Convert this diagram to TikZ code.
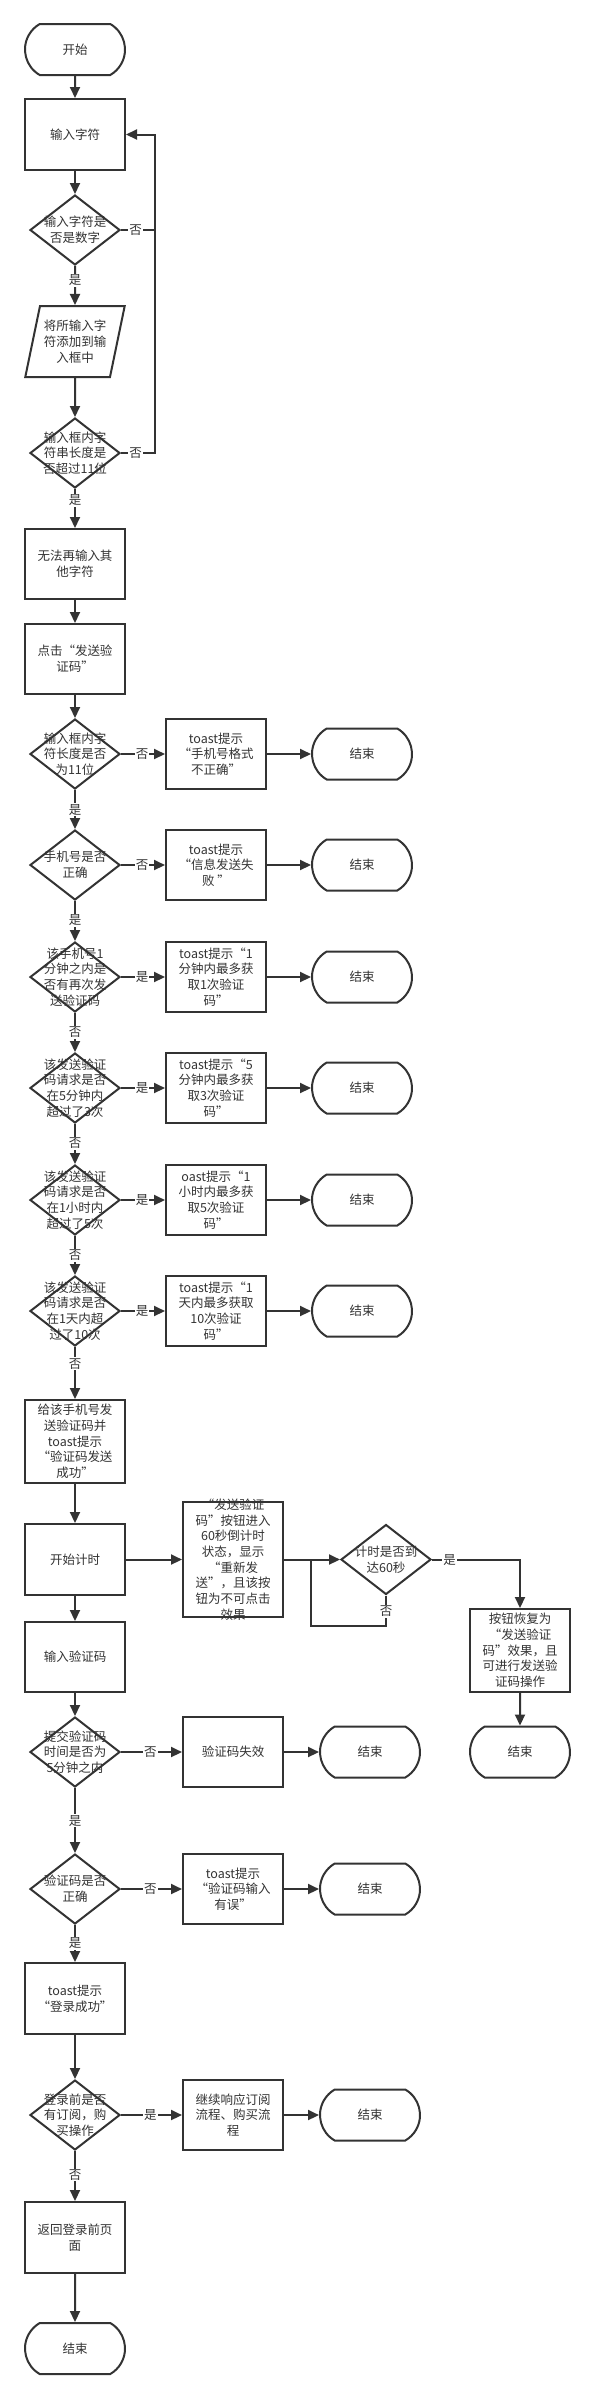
\documentclass[tikz,border=0pt]{standalone}
\usepackage{fontspec}
\setmainfont{Noto Sans CJK SC}
\usetikzlibrary{shapes.geometric,shapes.misc,arrows.meta}
\definecolor{ink}{HTML}{333333}
\begin{document}
\begin{tikzpicture}[x=1pt,y=-1pt,
  every node/.style={font=\fontsize{12.5}{15.7}\selectfont, text=ink, align=center},
  base/.style={draw=ink, line width=2pt, inner sep=0pt},
  box/.style={base, rectangle, minimum width=100pt, minimum height=70pt},
  term/.style={base, rounded rectangle, rounded rectangle arc length=120, minimum width=100pt, minimum height=51pt},
  dia/.style={base, diamond, minimum width=90pt, minimum height=70pt},
  para/.style={base, trapezium, trapezium left angle=73, trapezium right angle=107, trapezium stretches=true, minimum width=100pt, minimum height=71pt},
  line/.style={draw=ink, line width=2pt},
  arr/.style={line, -{Triangle[length=11pt,width=10pt]}},
  lbl/.style={fill=white, inner sep=1pt},
]
\useasboundingbox[fill=white] (0,0) rectangle (595,2399);

% main column
\node[term] (start) at (75,49.5) {开始};
\node[box, minimum height=71pt] (in1) at (75,134.5) {输入字符};
\node[dia, label={center:输入字符是\\否是数字}] (d1) at (75,230) {};
\node[para] (p1) at (75,341.5) {将所输入字\\符添加到输\\入框中};
\node[dia, label={center:输入框内字\\符串长度是\\否超过11位}] (d2) at (75,453) {};
\node[box] (r3) at (75,564) {无法再输入其\\他字符};
\node[box] (r4) at (75,659) {点击“发送验\\证码”};

\node[dia, label={center:输入框内字\\符长度是否\\为11位}] (d3) at (75,754) {};
\node[box] (t1) at (216,754) {toast提示\\“手机号格式\\不正确”};
\node[term] (e1) at (362,754) {结束};

\node[dia, label={center:手机号是否\\正确}] (d4) at (75,865) {};
\node[box] (t2) at (216,865) {toast提示\\“信息发送失\\败 ”};
\node[term] (e2) at (362,865) {结束};

\node[dia, label={center:该手机号1\\分钟之内是\\否有再次发\\送验证码}] (d5) at (75,977) {};
\node[box] (t3) at (216,977) {toast提示“1\\分钟内最多获\\取1次验证\\码”};
\node[term] (e3) at (362,977) {结束};

\node[dia, label={center:该发送验证\\码请求是否\\在5分钟内\\超过了3次}] (d6) at (75,1088) {};
\node[box] (t4) at (216,1088) {toast提示“5\\分钟内最多获\\取3次验证\\码”};
\node[term] (e4) at (362,1088) {结束};

\node[dia, label={center:该发送验证\\码请求是否\\在1小时内\\超过了5次}] (d7) at (75,1200) {};
\node[box] (t5) at (216,1200) {oast提示“1\\小时内最多获\\取5次验证\\码”};
\node[term] (e5) at (362,1200) {结束};

\node[dia, label={center:该发送验证\\码请求是否\\在1天内超\\过了10次}] (d8) at (75,1311) {};
\node[box] (t6) at (216,1311) {toast提示“1\\天内最多获取\\10次验证\\码”};
\node[term] (e6) at (362,1311) {结束};

\node[box, minimum height=83pt] (r5) at (75,1441.5) {给该手机号发\\送验证码并\\toast提示\\“验证码发送\\成功”};
\node[box, minimum height=71pt] (r6) at (75,1559.5) {开始计时};
\node[box, minimum height=115pt, label={center:“发送验证\\码”按钮进入\\60秒倒计时\\状态，显示\\“重新发\\送”，且该按\\钮为不可点击\\效果}] (cd) at (233,1559.5) {};
\node[dia, label={center:计时是否到\\达60秒}] (d60) at (386,1559.5) {};
\node[box, minimum height=83pt] (btn) at (520,1650.5) {按钮恢复为\\“发送验证\\码”效果，且\\可进行发送验\\证码操作};
\node[term] (eR) at (520,1752) {结束};

\node[box] (r7) at (75,1657) {输入验证码};
\node[dia, label={center:提交验证码\\时间是否为\\5分钟之内}] (d9) at (75,1752) {};
\node[box] (t7) at (233,1752) {验证码失效};
\node[term] (e7) at (370,1752) {结束};

\node[dia, label={center:验证码是否\\正确}] (d10) at (75,1889) {};
\node[box] (t8) at (233,1889) {toast提示\\“验证码输入\\有误”};
\node[term] (e8) at (370,1889) {结束};

\node[box, minimum height=71pt] (r8) at (75,1998.5) {toast提示\\“登录成功”};
\node[dia, label={center:登录前是否\\有订阅，购\\买操作}] (d11) at (75,2115) {};
\node[box] (t9) at (233,2115) {继续响应订阅\\流程、购买流\\程};
\node[term] (e9) at (370,2115) {结束};

\node[box, minimum height=71pt] (r9) at (75,2237.5) {返回登录前页\\面};
\node[term] (eF) at (75,2348.5) {结束};

% connectors
\draw[arr] (start) -- (in1);
\draw[arr] (in1) -- (d1);
\draw[arr] (d1) -- node[lbl,pos=0.37]{是} (p1);
\draw[arr] (p1) -- (d2);
\draw[arr] (d2) -- node[lbl,pos=0.29]{是} (r3);
\coordinate (j1) at (155,230);
\draw[arr] (d1.east) -- node[lbl,pos=0.43]{否} (j1) |- (in1.east);
\draw[line] (d2.east) -- node[lbl,pos=0.43]{否} (d2.east -| j1) -- (j1);
\draw[arr] (r3) -- (r4);
\draw[arr] (r4) -- (d3);

\draw[arr] (d3) -- node[lbl,pos=0.48]{否} (t1);
\draw[arr] (t1) -- (e1);
\draw[arr] (d3) -- node[lbl,pos=0.5]{是} (d4);
\draw[arr] (d4) -- node[lbl,pos=0.48]{否} (t2);
\draw[arr] (t2) -- (e2);
\draw[arr] (d4) -- node[lbl,pos=0.48]{是} (d5);
\draw[arr] (d5) -- node[lbl,pos=0.48]{是} (t3);
\draw[arr] (t3) -- (e3);
\draw[arr] (d5) -- node[lbl,pos=0.49]{否} (d6);
\draw[arr] (d6) -- node[lbl,pos=0.48]{是} (t4);
\draw[arr] (t4) -- (e4);
\draw[arr] (d6) -- node[lbl,pos=0.48]{否} (d7);
\draw[arr] (d7) -- node[lbl,pos=0.48]{是} (t5);
\draw[arr] (t5) -- (e5);
\draw[arr] (d7) -- node[lbl,pos=0.49]{否} (d8);
\draw[arr] (d8) -- node[lbl,pos=0.48]{是} (t6);
\draw[arr] (t6) -- (e6);
\draw[arr] (d8) -- node[lbl,pos=0.32]{否} (r5);

\draw[arr] (r5) -- (r6);
\draw[arr] (r6) -- (cd);
\draw[arr] (cd) -- (d60);
\coordinate (j2) at (311,1559.5);
\draw[line] (d60.south) -- node[lbl,pos=0.53]{否} ++(0,30) -| (j2);
\draw[arr] (d60.east) -| node[lbl,pos=0.1]{是} (btn.north);
\draw[arr] (btn) -- (eR);

\draw[arr] (r6) -- (r7);
\draw[arr] (r7) -- (d9);
\draw[arr] (d9) -- node[lbl,pos=0.48]{否} (t7);
\draw[arr] (t7) -- (e7);
\draw[arr] (d9) -- node[lbl,pos=0.5]{是} (d10);
\draw[arr] (d10) -- node[lbl,pos=0.48]{否} (t8);
\draw[arr] (t8) -- (e8);
\draw[arr] (d10) -- node[lbl,pos=0.49]{是} (r8);
\draw[arr] (r8) -- (d11);
\draw[arr] (d11) -- node[lbl,pos=0.48]{是} (t9);
\draw[arr] (t9) -- (e9);
\draw[arr] (d11) -- node[lbl,pos=0.48]{否} (r9);
\draw[arr] (r9) -- (eF);
\end{tikzpicture}
\end{document}
